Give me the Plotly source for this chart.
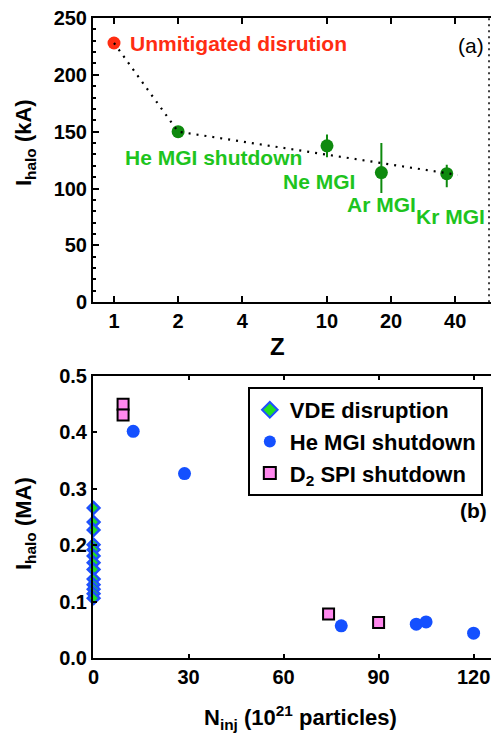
import plotly.graph_objects as go

# ---- panel (a): halo current vs atomic number Z ----
z_unmit = [1]
i_unmit = [228]

z_mgi = [2, 10, 18, 36.5]
i_mgi = [150, 137.5, 114, 113]
err_up = [0, 10, 26, 8]
err_dn = [0, 10, 18, 12]

z_trend = [1, 2, 41]
i_trend = [228, 150, 112]

z_ticks = [1, 2, 4, 10, 20, 40]

# ---- panel (b): halo current vs injected particles ----
vde_n = [0] * 13
vde_i = [0.266, 0.241, 0.227, 0.201, 0.192, 0.181, 0.169, 0.157, 0.140, 0.130, 0.122, 0.114, 0.106]

he_n = [12.5, 28.7, 78.2, 101.9, 105.0, 120.0]
he_i = [0.402, 0.327, 0.057, 0.060, 0.064, 0.044]

spi_n = [9.3, 9.3, 74.2, 90.0]
spi_i = [0.450, 0.431, 0.078, 0.063]

FONT = "Liberation Sans, Arial, sans-serif"
RED = "#ff2d12"
GREEN_TXT = "#1ec41e"
GREEN_MK = "#0e8a0e"

fig = go.Figure()

fig.add_trace(go.Scatter(
    x=z_mgi, y=i_mgi, mode="markers", xaxis="x", yaxis="y",
    marker=dict(color=GREEN_MK, size=13, line=dict(width=0)),
    error_y=dict(type="data", array=err_up, arrayminus=err_dn,
                 color=GREEN_MK, thickness=2, width=0),
    showlegend=False))
fig.add_trace(go.Scatter(
    x=z_unmit, y=i_unmit, mode="markers", xaxis="x", yaxis="y",
    marker=dict(color=RED, size=13, line=dict(width=0)), showlegend=False))
fig.add_trace(go.Scatter(
    x=z_trend, y=i_trend, mode="lines", xaxis="x", yaxis="y",
    line=dict(color="black", width=2.2, dash="2px,6px"), showlegend=False))

fig.add_trace(go.Scatter(
    x=vde_n, y=vde_i, mode="markers", xaxis="x2", yaxis="y2",
    name="VDE disruption", cliponaxis=False,
    marker=dict(symbol="diamond", color="#22e022", size=9,
                line=dict(color="#1e50ff", width=2.5))))
fig.add_trace(go.Scatter(
    x=he_n, y=he_i, mode="markers", xaxis="x2", yaxis="y2",
    name="He MGI shutdown",
    marker=dict(symbol="circle", color="#1450ff", size=13, line=dict(width=0))))
fig.add_trace(go.Scatter(
    x=spi_n, y=spi_i, mode="markers", xaxis="x2", yaxis="y2",
    name="D<sub>2</sub> SPI shutdown",
    marker=dict(symbol="square", color="#ff88ee", size=11,
                line=dict(color="black", width=2))))

tickfont = dict(family=FONT, size=20, color="black", weight="bold")

axis_common = dict(showline=True, linecolor="black", linewidth=2,
                   showgrid=False, zeroline=False, ticks="inside",
                   tickcolor="black", tickwidth=1.5, tickfont=tickfont)

fig.update_layout(
    width=491, height=736,
    margin=dict(l=93, r=0, t=18, b=78),
    paper_bgcolor="white", plot_bgcolor="white",
    font=dict(family=FONT, color="black"),
    xaxis=dict(axis_common, type="log", domain=[0, 1], anchor="y",
               range=[-0.0986, 1.770], tickvals=z_ticks,
               ticktext=[str(v) for v in z_ticks], ticklen=6, mirror="ticks"),
    yaxis=dict(axis_common, domain=[0.556, 1], anchor="x",
               range=[0, 250], tickvals=[0, 50, 100, 150, 200, 250],
               ticklen=6, minor=dict(dtick=10, ticklen=3, ticks="inside",
                                     tickcolor="black", tickwidth=1.5)),
    xaxis2=dict(axis_common, domain=[0, 1], anchor="y2",
                range=[-0.2, 125.5], tickvals=[0, 30, 60, 90, 120],
                ticklen=4, mirror="ticks"),
    yaxis2=dict(axis_common, domain=[0, 0.4406], anchor="x2",
                range=[0, 0.5], tickvals=[0, 0.1, 0.2, 0.3, 0.4, 0.5],
                ticktext=["0.0", "0.1", "0.2", "0.3", "0.4", "0.5"], ticklen=4),
    legend=dict(x=0.389, y=0.4234, xanchor="left", yanchor="top",
                bordercolor="black", borderwidth=2, bgcolor="white",
                font=dict(family=FONT, size=22, color="black", weight="bold"),
                itemsizing="constant", tracegroupgap=0),
)

W, H, L, T, B = 491, 736, 93, 18, 78


def px_x(x):
    return (x - L) / (W - L)


def px_y(y):
    return (H - B - y) / (H - T - B)


lab = dict(family=FONT, size=21, weight="bold")
title_font = dict(family=FONT, size=22, weight="bold", color="black")
ann = [
    dict(x=0.0657, y=228, xref="x", yref="y", text="Unmitigated disrution",
         xanchor="left", font=dict(lab, color=RED)),
    dict(x=0.042, y=127.6, xref="x", yref="y", text="He MGI shutdown",
         xanchor="left", font=dict(lab, color=GREEN_TXT)),
    dict(x=1.141, y=106, xref="x", yref="y", text="Ne MGI",
         xanchor="right", font=dict(lab, color=GREEN_TXT)),
    dict(x=1.085, y=86, xref="x", yref="y", text="Ar MGI",
         xanchor="left", font=dict(lab, color=GREEN_TXT)),
    dict(x=px_x(487), y=75, xref="paper", yref="y", text="Kr MGI",
         xanchor="right", font=dict(lab, color=GREEN_TXT)),
    dict(x=px_x(486), y=226, xref="paper", yref="y", text="(a)",
         xanchor="right", font=dict(family=FONT, size=21, color="black")),
    dict(x=px_x(489), y=0.262, xref="paper", yref="y2", text="(b)",
         xanchor="right",
         font=dict(family=FONT, size=21, color="black", weight="bold")),
    # axis titles
    dict(x=px_x(25), y=px_y(143), xref="paper", yref="paper",
         text="I<sub>halo</sub> (kA)", textangle=-90, xanchor="center",
         font=title_font),
    dict(x=px_x(277), y=px_y(346), xref="paper", yref="paper", text="Z",
         xanchor="center", font=dict(title_font, size=24)),
    dict(x=px_x(25), y=px_y(524), xref="paper", yref="paper",
         text="I<sub>halo</sub> (MA)", textangle=-90, xanchor="center",
         font=title_font),
    dict(x=px_x(300), y=px_y(717), xref="paper", yref="paper",
         text="N<sub>inj</sub> (10<sup>21</sup> particles)", xanchor="center",
         font=title_font),
]
for a in ann:
    a["showarrow"] = False
    a["yanchor"] = "middle"
fig.update_layout(annotations=ann)

# dotted right border of panel (a)
fig.add_shape(type="line", xref="x domain", yref="y domain",
              x0=0.995, x1=0.995, y0=0, y1=1,
              line=dict(color="black", width=1.5, dash="2px,4px"))

fig.write_html("out.html")
